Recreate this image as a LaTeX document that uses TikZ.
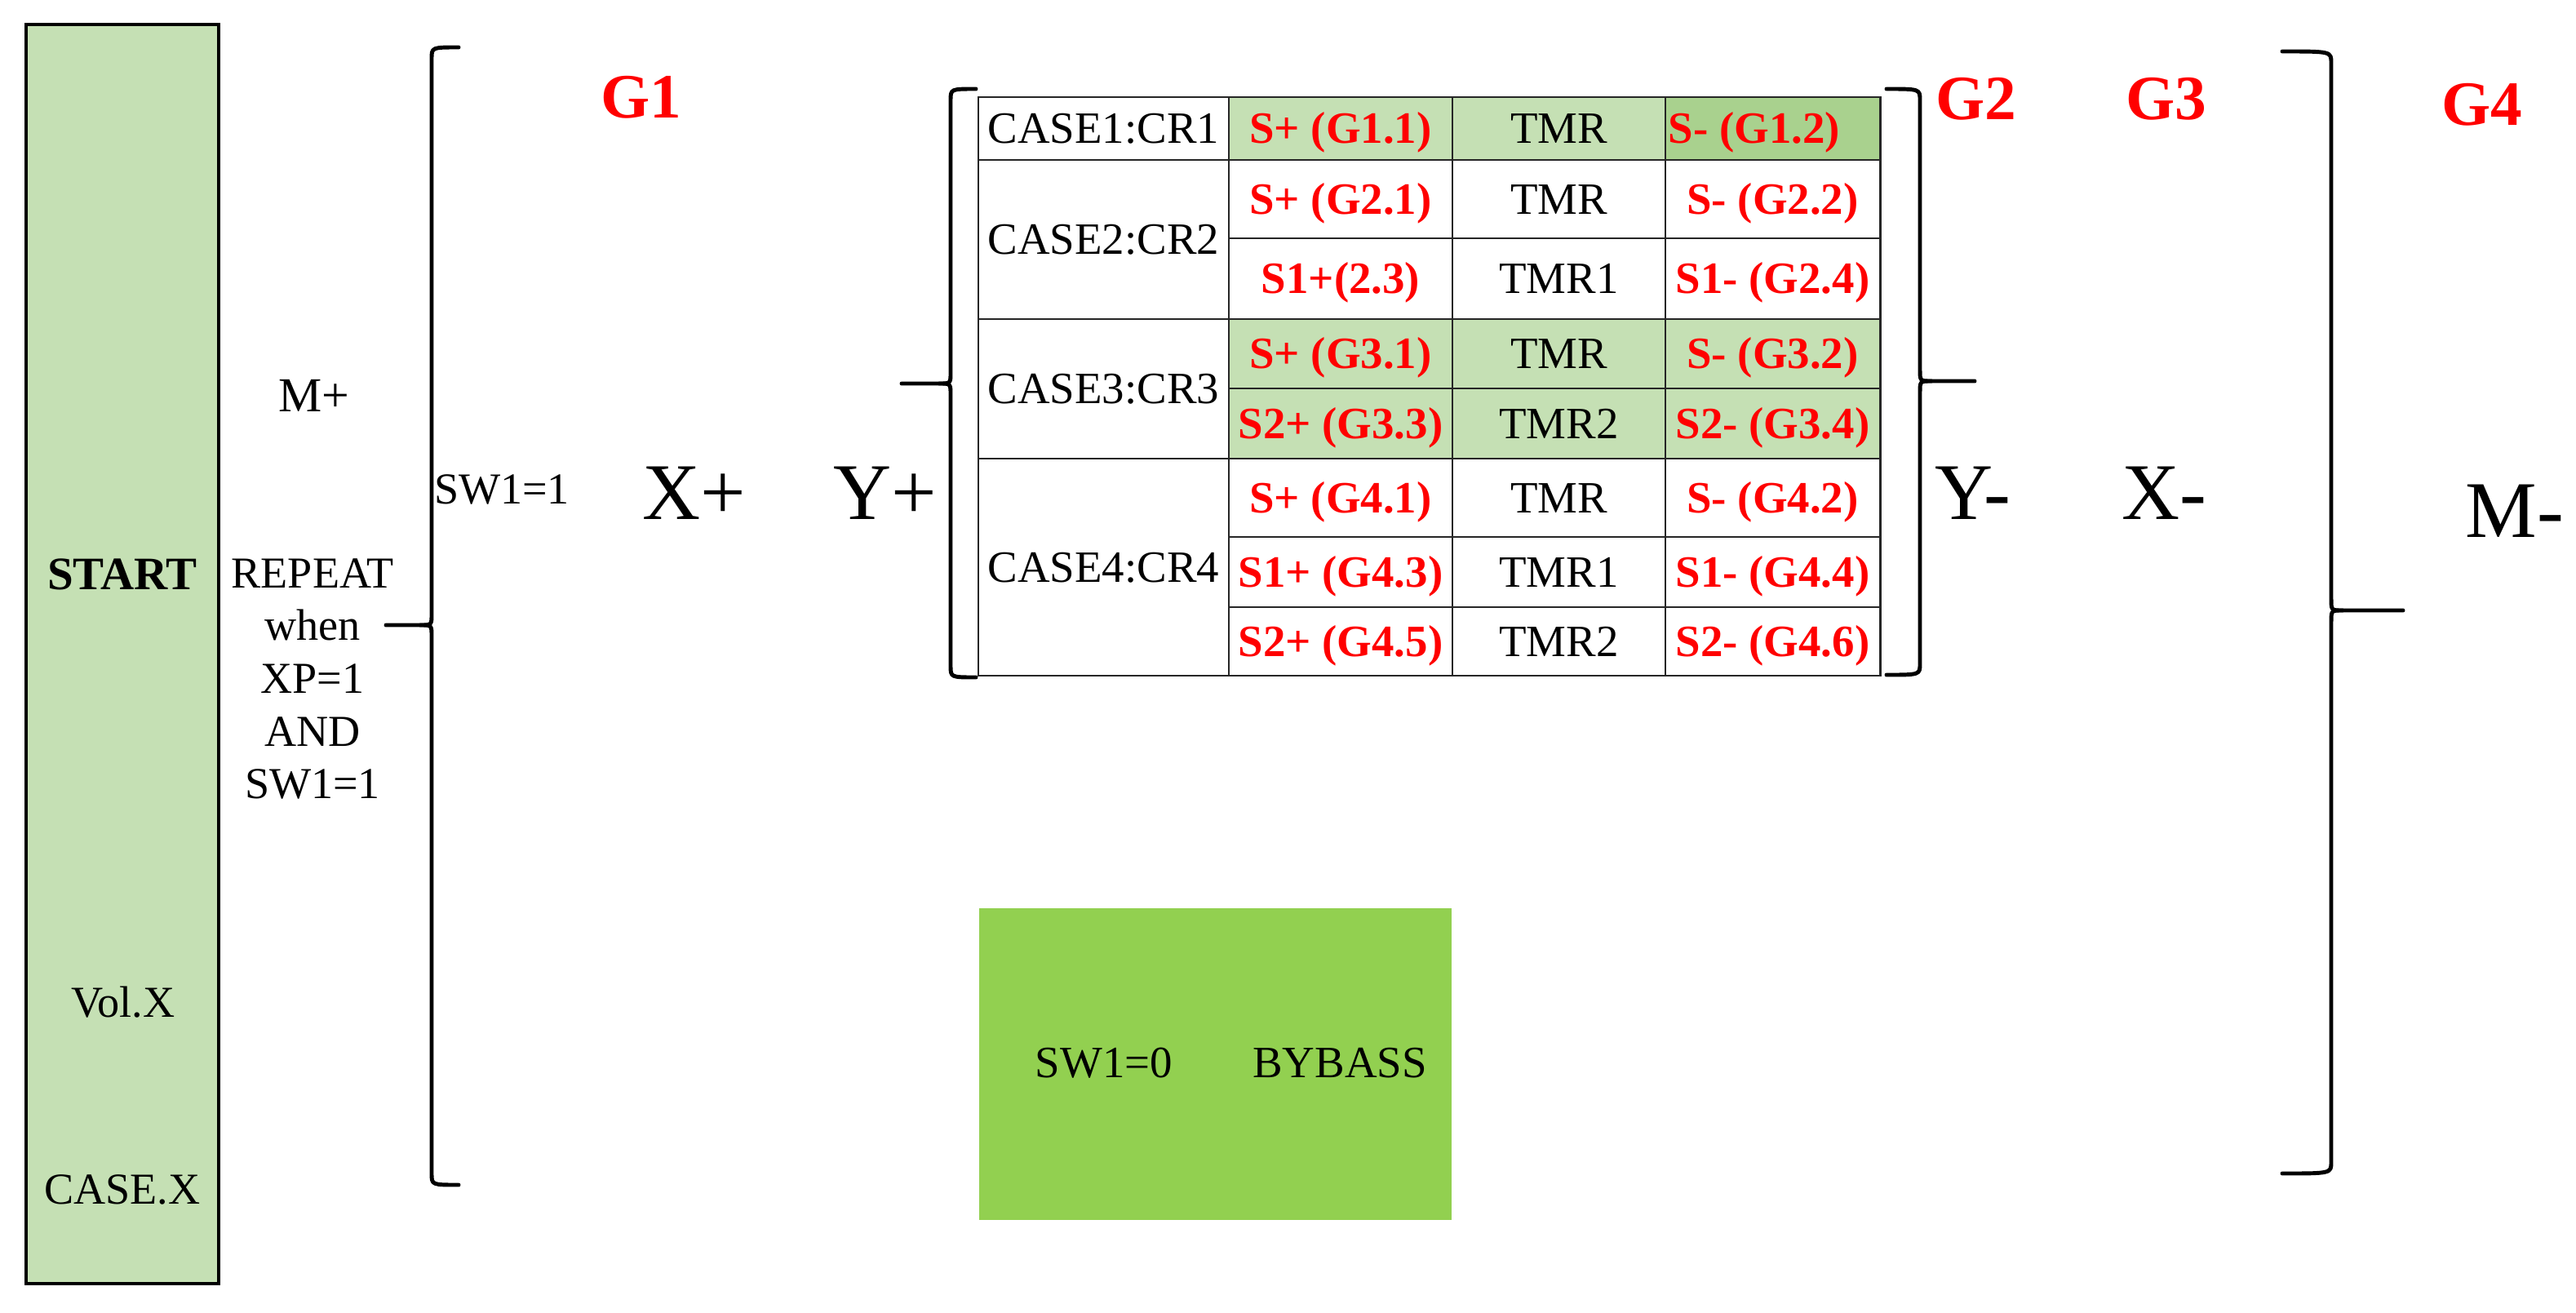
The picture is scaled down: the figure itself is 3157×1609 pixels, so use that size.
\documentclass[tikz,border=0pt]{standalone}
\usepackage{fontspec}
\setmainfont{Liberation Serif}
\definecolor{lgreen}{HTML}{C5E0B4}
\definecolor{dgreen}{HTML}{A9D18E}
\definecolor{bgreen}{HTML}{92D050}
\newcommand\tfont{\fontsize{15.6}{18}\selectfont}
\newcommand\sfont{\fontsize{15.4}{18.3}\selectfont}
\newcommand\mfont{\fontsize{17}{20}\selectfont}
\newcommand\bigfont{\fontsize{28}{32}\selectfont}
\newcommand\gfont{\fontsize{22}{26}\selectfont\bfseries}
% generic bracket: #1 x, #2 top, #3 bottom, #4 tip y, #5 hook end x, #6 tip end x, #7 direction (-1 left, 1 right)
\newcommand\mybrk[7]{%
  \draw[brk] (#5,#2) .. controls (#1,#2) .. (#1,{#2+14}) -- (#1,{#4-14}) .. controls (#1,#4) .. ({#1+#7*14},#4) -- (#6,#4);
  \draw[brk] ({#1+#7*14},#4) .. controls (#1,#4) .. (#1,{#4+14}) -- (#1,{#3-14}) .. controls (#1,#3) .. (#5,#3);}
% table cell: #1 x1, #2 y1, #3 x2, #4 y2, #5 options, #6 name, #7 text
\newcommand\tcell[7]{\node[cellbox,#5,minimum width={(#3-#1)*0.28453pt},minimum height={(#4-#2)*0.28453pt}] (#6) at ({(#1+#3)/2},{(#2+#4)/2}) {#7};}
\tikzset{
  brk/.style={line width=1.4pt, line cap=round, line join=round},
  capc/.style={text height=10.3pt, text depth=0pt},
  cellbox/.style={draw=black!85, line width=0.8pt, inner sep=0pt, font=\tfont, text=black, capc},
  sred/.style={text=red, font=\tfont\bfseries},
  lbl/.style={inner sep=0pt, font=\sfont},
  big/.style={inner sep=0pt, font=\bigfont},
  glab/.style={inner sep=0pt, text=red, font=\gfont},
}
\begin{document}
\begin{tikzpicture}[x=0.01cm,y=-0.01cm]
\useasboundingbox[fill=white] (0,0) rectangle (3157,1609);

% START column
\path[fill=lgreen, draw=black, line width=1.1pt] (32,30) rectangle (268,1573);
\node[lbl, font=\fontsize{16.2}{19}\selectfont\bfseries] (start) at (150,704) {START};
\node[lbl] (vol) at (151,1228) {Vol.X};
\node[lbl] (casex) at (150,1458) {CASE.X};

% M+ and repeat text
\node[inner sep=0pt, font=\mfont] (mplus) at (385,485) {M+};
\node[inner sep=0pt, align=center, font=\fontsize{15.4}{18.4}\selectfont] (repeat) at (383,832) {REPEAT\\when\\XP=1\\AND\\SW1=1};

% G1 bracket
\mybrk{529}{58}{1452}{766}{562}{473}{-1}
\node[lbl] (sw1) at (615,600) {SW1=1};
\node[glab] (g1) at (786,119) {G1};
\node[big] (xplus) at (851,604) {X+};
\node[big] (yplus) at (1085,604) {Y+};

% table bracket left
\mybrk{1165}{109}{830}{470}{1196}{1105}{-1}

% table
\tcell{1199}{119}{1506}{196}{fill=white}{c11}{CASE1:CR1}
\tcell{1506}{119}{1780}{196}{fill=lgreen,sred}{c12}{S+ (G1.1)}
\tcell{1780}{119}{2041}{196}{fill=lgreen}{c13}{TMR}
\tcell{2041}{119}{2304}{196}{fill=dgreen}{c14}{}
\node[inner sep=0pt, anchor=west, text=red, font=\tfont\bfseries, capc] (c14t) at (2044,157) {S- (G1.2)};

\tcell{1199}{196}{1506}{391}{fill=white}{c21}{CASE2:CR2}
\tcell{1506}{196}{1780}{292}{fill=white,sred}{c22}{S+ (G2.1)}
\tcell{1780}{196}{2041}{292}{fill=white}{c23}{TMR}
\tcell{2041}{196}{2304}{292}{fill=white,sred}{c24}{S- (G2.2)}
\tcell{1506}{292}{1780}{391}{fill=white,sred}{c32}{S1+(2.3)}
\tcell{1780}{292}{2041}{391}{fill=white}{c33}{TMR1}
\tcell{2041}{292}{2304}{391}{fill=white,sred}{c34}{S1- (G2.4)}

\tcell{1199}{391}{1506}{562}{fill=white}{c41}{CASE3:CR3}
\tcell{1506}{391}{1780}{476}{fill=lgreen,sred}{c42}{S+ (G3.1)}
\tcell{1780}{391}{2041}{476}{fill=lgreen}{c43}{TMR}
\tcell{2041}{391}{2304}{476}{fill=lgreen,sred}{c44}{S- (G3.2)}
\tcell{1506}{476}{1780}{562}{fill=lgreen,sred}{c52}{S2+ (G3.3)}
\tcell{1780}{476}{2041}{562}{fill=lgreen}{c53}{TMR2}
\tcell{2041}{476}{2304}{562}{fill=lgreen,sred}{c54}{S2- (G3.4)}

\tcell{1199}{562}{1506}{828}{fill=white}{c61}{CASE4:CR4}
\tcell{1506}{562}{1780}{658}{fill=white,sred}{c62}{S+ (G4.1)}
\tcell{1780}{562}{2041}{658}{fill=white}{c63}{TMR}
\tcell{2041}{562}{2304}{658}{fill=white,sred}{c64}{S- (G4.2)}
\tcell{1506}{658}{1780}{744}{fill=white,sred}{c72}{S1+ (G4.3)}
\tcell{1780}{658}{2041}{744}{fill=white}{c73}{TMR1}
\tcell{2041}{658}{2304}{744}{fill=white,sred}{c74}{S1- (G4.4)}
\tcell{1506}{744}{1780}{828}{fill=white,sred}{c82}{S2+ (G4.5)}
\tcell{1780}{744}{2041}{828}{fill=white}{c83}{TMR2}
\tcell{2041}{744}{2304}{828}{fill=white,sred}{c84}{S2- (G4.6)}

% table bracket right
\mybrk{2353}{109}{827}{467}{2312}{2420}{1}
\node[glab] (g2) at (2422,121) {G2};
\node[glab] (g3) at (2655,121) {G3};
\node[big] (yminus) at (2418,604) {Y-};
\node[big] (xminus) at (2652,604) {X-};

% big right bracket
\mybrk{2857}{63}{1438}{748}{2797}{2945}{1}
\node[glab] (g4) at (3042,128) {G4};
\node[big] (mminus) at (3082,626) {M-};

% bypass box
\path[fill=bgreen] (1200,1113) rectangle (1779,1495);
\node[lbl, font=\tfont] (sw0) at (1353,1303) {SW1=0};
\node[lbl, font=\tfont] (bypass) at (1642,1303) {BYBASS};
\end{tikzpicture}
\end{document}
